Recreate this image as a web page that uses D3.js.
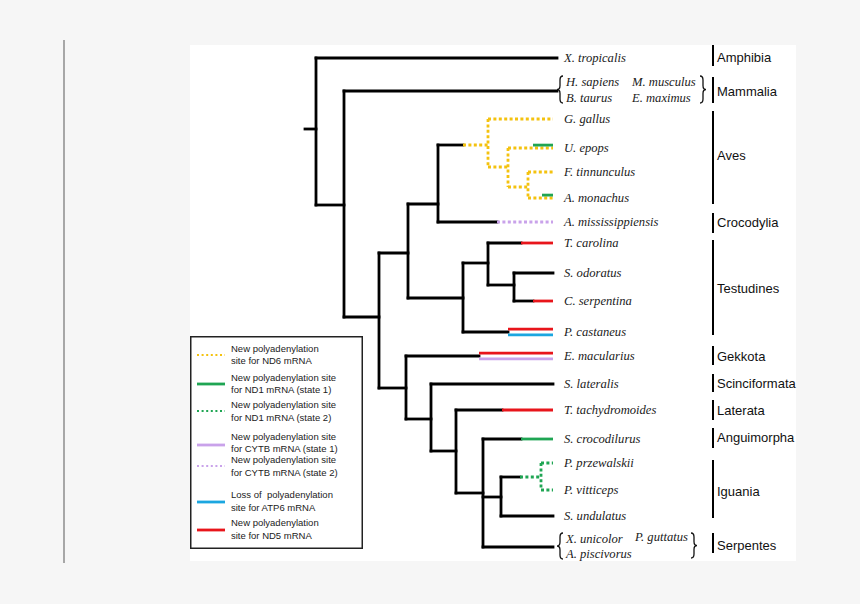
<!DOCTYPE html>
<html><head><meta charset="utf-8">
<script src="https://cdn.jsdelivr.net/npm/d3@7"></script>
<style>html,body{margin:0;padding:0;background:#f6f6f6;} svg{display:block;}</style>
</head><body>
<svg id="chart" width="860" height="604"></svg>
<script>
// ---------------- DATA ----------------
// Tree nodes: id, parent, depth (horizontal position units), pos (vertical position units)
const nodeId     = ["root","Xtrop","N1","Mamm","N2","N3","N4","N5","Ggal","N6","Uepo","N7","Ftin","Amon","Amis","N8","N9","Tcar","N10","Sodo","Cser","Pcas","N11","Emac","N12","Slat","N13","Ttac","N14","Scro","N15","N16","Pprz","Pvit","Sund","Serp"];
const nodeParent = [null,"root","root","N1","N1","N2","N3","N4","N5","N5","N6","N6","N7","N7","N4","N3","N8","N9","N9","N10","N10","N8","N2","N11","N11","N12","N12","N13","N13","N14","N14","N15","N16","N16","N15","N14"];
const nodeDepth  = [126,367,154,367,189,218,248,298,363,318,363,338,363,363,363,273,298,363,324,363,363,363,216,363,241,363,266,363,293,363,311,351,363,363,363,363];
const nodePos    = [84,13,160,46,272,208,159,100,74,122,103,142,127,153,177,253,218,198,240,228,256,287,343,311,374,339,406,365,448,394,452,432,418,445,471,502];
const rootStart  = 115;

// Leaf labels
const leafLabelId   = ["Xtrop","Ggal","Uepo","Ftin","Amon","Amis","Tcar","Sodo","Cser","Pcas","Emac","Slat","Ttac","Scro","Pprz","Pvit","Sund"];
const leafLabelText = ["X. tropicalis","G. gallus","U. epops","F. tinnunculus","A. monachus","A. mississippiensis","T. carolina","S. odoratus","C. serpentina","P. castaneus","E. macularius","S. lateralis","T. tachydromoides","S. crocodilurus","P. przewalskii","P. vitticeps","S. undulatus"];

// Collapsed clades with several species names
const mammalNames  = ["H. sapiens","M. musculus","B. taurus","E. maximus"];
const serpentNames = ["X. unicolor","P. guttatus","A. piscivorus"];

// Character-state markers on branches
const markNode = ["N5","Ggal","N6","Uepo","Uepo","N7","Ftin","Amon","Amon","Amis","Tcar","Cser","Pcas","Pcas","Emac","Emac","Ttac","Scro","N16","Pprz","Pvit"];
const markType = ["ND6","ND6","ND6","ND6","ND1a","ND6","ND6","ND6","ND1a","CYTB2","ND5","ND5","ND5","ATP6","ND5","CYTB1","ND5","ND1a","ND1b","ND1b","ND1b"];
const markFrom = [273,298,298,318,343,318,338,338,352,307,331,343,318,318,289,289,312,331,330,351,351];
const markLane = [0,0,0,0,-1,0,0,0,-1,0,0,0,-1,1,-1,1,0,0,0,0,0];

// Taxonomic groups (right side)
const groupNames  = ["Amphibia","Mammalia","Aves","Crocodylia","Testudines","Gekkota","Scinciformata","Laterata","Anguimorpha","Iguania","Serpentes"];
const groupTop    = [0,32,66,168,195,301,329,355,383,415,488];
const groupBottom = [21,58,159,188,290,320,347,375,403,473,508];
const groupLabelY = [12,46,110,177,243,311,338,365,392,446,500];

// Legend
const legendTypes = ["ND6","ND1a","ND1b","CYTB1","CYTB2","ATP6","ND5"];
const legendText  = [
  ["New polyadenylation","site for ND6 mRNA"],
  ["New polyadenylation site","for ND1 mRNA (state 1)"],
  ["New polyadenylation site","for ND1 mRNA (state 2)"],
  ["New polyadenylation site","for CYTB mRNA (state 1)"],
  ["New polyadenylation site","for CYTB mRNA (state 2)"],
  ["Loss of  polyadenylation","site for ATP6 mRNA"],
  ["New polyadenylation","site for ND5 mRNA"]
];

// ---------------- STYLES / LAYOUT ----------------
const typeStyle = {
  ND6:   {color:"#f4c20f", dash:"3,2.4"},
  ND1a:  {color:"#1fa553", dash:null},
  ND1b:  {color:"#1fa553", dash:"3,2.4"},
  CYTB1: {color:"#c9a2ea", dash:null},
  CYTB2: {color:"#c9a2ea", dash:"3,2.4"},
  ATP6:  {color:"#1ba6e0", dash:null},
  ND5:   {color:"#e8151b", dash:null}
};
const LW = 2.8, LANE = 2.9;
const serif = "'Liberation Serif','Times New Roman',serif";
const sans  = "'Liberation Sans',Arial,sans-serif";

const svg = d3.select("#chart");
svg.append("rect").attr("width",860).attr("height",604).attr("fill","#f6f6f6");
svg.append("line").attr("x1",64).attr("x2",64).attr("y1",40).attr("y2",563)
  .attr("stroke","#8c8c8c").attr("stroke-width",1.5);
svg.append("rect").attr("x",190).attr("y",45).attr("width",606).attr("height",516).attr("fill","#fff");

const x = d3.scaleLinear().domain([0,606]).range([190,796]);
const y = d3.scaleLinear().domain([0,516]).range([45,561]);

const rows = nodeId.map((id,i)=>({id, parent:nodeParent[i], depth:nodeDepth[i], pos:nodePos[i]}));
const root = d3.stratify().id(d=>d.id).parentId(d=>d.parent)(rows);

const marks = markNode.map((n,i)=>({node:n, type:markType[i], from:markFrom[i], lane:markLane[i]}));
const marksBy = d3.group(marks, d=>d.node);

const gBlack = svg.append("g").attr("stroke","#000").attr("stroke-width",LW).attr("stroke-linecap","square").attr("fill","none");
const gColor = svg.append("g").attr("fill","none");

// root stub
gBlack.append("line").attr("x1",x(rootStart)).attr("x2",x(root.data.depth))
  .attr("y1",y(root.data.pos)).attr("y2",y(root.data.pos));

function drawSeg(g, x1, x2, yy, type){
  const st = typeStyle[type];
  const ln = g.append("line").attr("x1",x1).attr("x2",x2).attr("y1",yy).attr("y2",yy)
    .attr("stroke",st.color).attr("stroke-width",LW);
  if (st.dash) ln.attr("stroke-dasharray",st.dash);
}
function drawVSeg(g, xx, y1, y2, type){
  const st = typeStyle[type];
  const ln = g.append("line").attr("x1",xx).attr("x2",xx).attr("y1",y1).attr("y2",y2)
    .attr("stroke",st.color).attr("stroke-width",LW);
  if (st.dash) ln.attr("stroke-dasharray",st.dash);
}

root.descendants().forEach(node=>{
  const ms = marksBy.get(node.id) || [];
  if (node.parent){
    const px = node.parent.data.depth, nx = node.data.depth, ny = node.data.pos;
    const blackEnd = ms.length ? d3.min(ms, m=>m.from) : nx;
    if (blackEnd > px){
      gBlack.append("line").attr("x1",x(px)).attr("x2",x(blackEnd)).attr("y1",y(ny)).attr("y2",y(ny));
    }
    ms.forEach(m=>drawSeg(gColor, x(m.from), x(nx), y(ny)+m.lane*LANE, m.type));
  }
  if (node.children){
    const ext = d3.extent(node.children, c=>c.data.pos);
    const main = ms.find(m=>m.lane===0);
    if (main){
      drawVSeg(gColor, x(node.data.depth), y(ext[0]), y(ext[1]), main.type);
    } else {
      gBlack.append("line").attr("x1",x(node.data.depth)).attr("x2",x(node.data.depth))
        .attr("y1",y(ext[0])).attr("y2",y(ext[1]));
    }
  }
});

// leaf labels
const byId = new Map(root.descendants().map(d=>[d.id,d]));
const gLab = svg.append("g").attr("font-family",serif).attr("font-style","italic")
  .attr("font-size","12.6px").attr("fill","#1a1a1a");
leafLabelId.forEach((id,i)=>{
  const n = byId.get(id);
  gLab.append("text").attr("x",x(374)).attr("y",y(n.data.pos)).attr("dy","0.35em").text(leafLabelText[i]);
});

// curly braces: dir>0 "{" ; dir<0 "}"
function brace(x0, y1, y2, w, dir){
  const ym = (y1+y2)/2, r = Math.min(4,(y2-y1)/4);
  const xm = x0 + w/2;
  const tip = dir>0 ? x0 : x0+w;
  const end = dir>0 ? x0+w : x0;
  return `M${end},${y1} Q${xm},${y1} ${xm},${y1+r} L${xm},${ym-r} Q${xm},${ym} ${tip},${ym} Q${xm},${ym} ${xm},${ym+r} L${xm},${y2-r} Q${xm},${y2} ${end},${y2}`;
}
const gBr = svg.append("g").attr("fill","none").attr("stroke","#111").attr("stroke-width",1.3);

gBr.append("path").attr("d",brace(x(367),y(31),y(58),6,1));
gBr.append("path").attr("d",brace(x(510),y(31),y(58),6,-1));
const mamX = [376,442,376,442], mamY = [37,37,53,53];
mammalNames.forEach((t,i)=>{
  gLab.append("text").attr("x",x(mamX[i])).attr("y",y(mamY[i])).attr("dy","0.35em").text(t);
});
gBr.append("path").attr("d",brace(x(367),y(488),y(514),6,1));
gBr.append("path").attr("d",brace(x(501),y(488),y(513),6,-1));
const serX = [376,445,376], serY = [494,492,509];
serpentNames.forEach((t,i)=>{
  gLab.append("text").attr("x",x(serX[i])).attr("y",y(serY[i])).attr("dy","0.35em").text(t);
});

// Group bars
const gGrp = svg.append("g");
groupNames.forEach((g,i)=>{
  gGrp.append("line").attr("x1",x(523)).attr("x2",x(523)).attr("y1",y(groupTop[i])).attr("y2",y(groupBottom[i]))
    .attr("stroke","#000").attr("stroke-width",2);
  gGrp.append("text").attr("x",x(527)).attr("y",y(groupLabelY[i])).attr("dy","0.35em")
    .attr("font-family",sans).attr("font-size","13px").attr("fill","#111").text(g);
});

// Legend
const gLeg = svg.append("g").attr("transform","translate(190,336)");
gLeg.append("rect").attr("x",0.75).attr("y",0.75).attr("width",171.5).attr("height",211.5)
  .attr("fill","#fff").attr("stroke","#222").attr("stroke-width",1.5);
const legLineY = [19,48,75,109,130,166,194];
const legTextY = [[13,25],[42,54],[69,82],[101,113],[124,137],[159,172],[187,200]];
legendTypes.forEach((t,i)=>{
  const st = typeStyle[t];
  const ln = gLeg.append("line").attr("x1",7).attr("x2",35).attr("y1",legLineY[i]).attr("y2",legLineY[i])
    .attr("stroke",st.color).attr("stroke-width",st.dash?2.2:2.8);
  if (st.dash) ln.attr("stroke-dasharray","2,2.6");
  legendText[i].forEach((s,j)=>{
    gLeg.append("text").attr("x",41).attr("y",legTextY[i][j]).attr("dy","0.35em")
      .attr("font-family",sans).attr("font-size","9.5px").attr("fill","#222")
      .style("white-space","pre").text(s);
  });
});
</script>
</body></html>
